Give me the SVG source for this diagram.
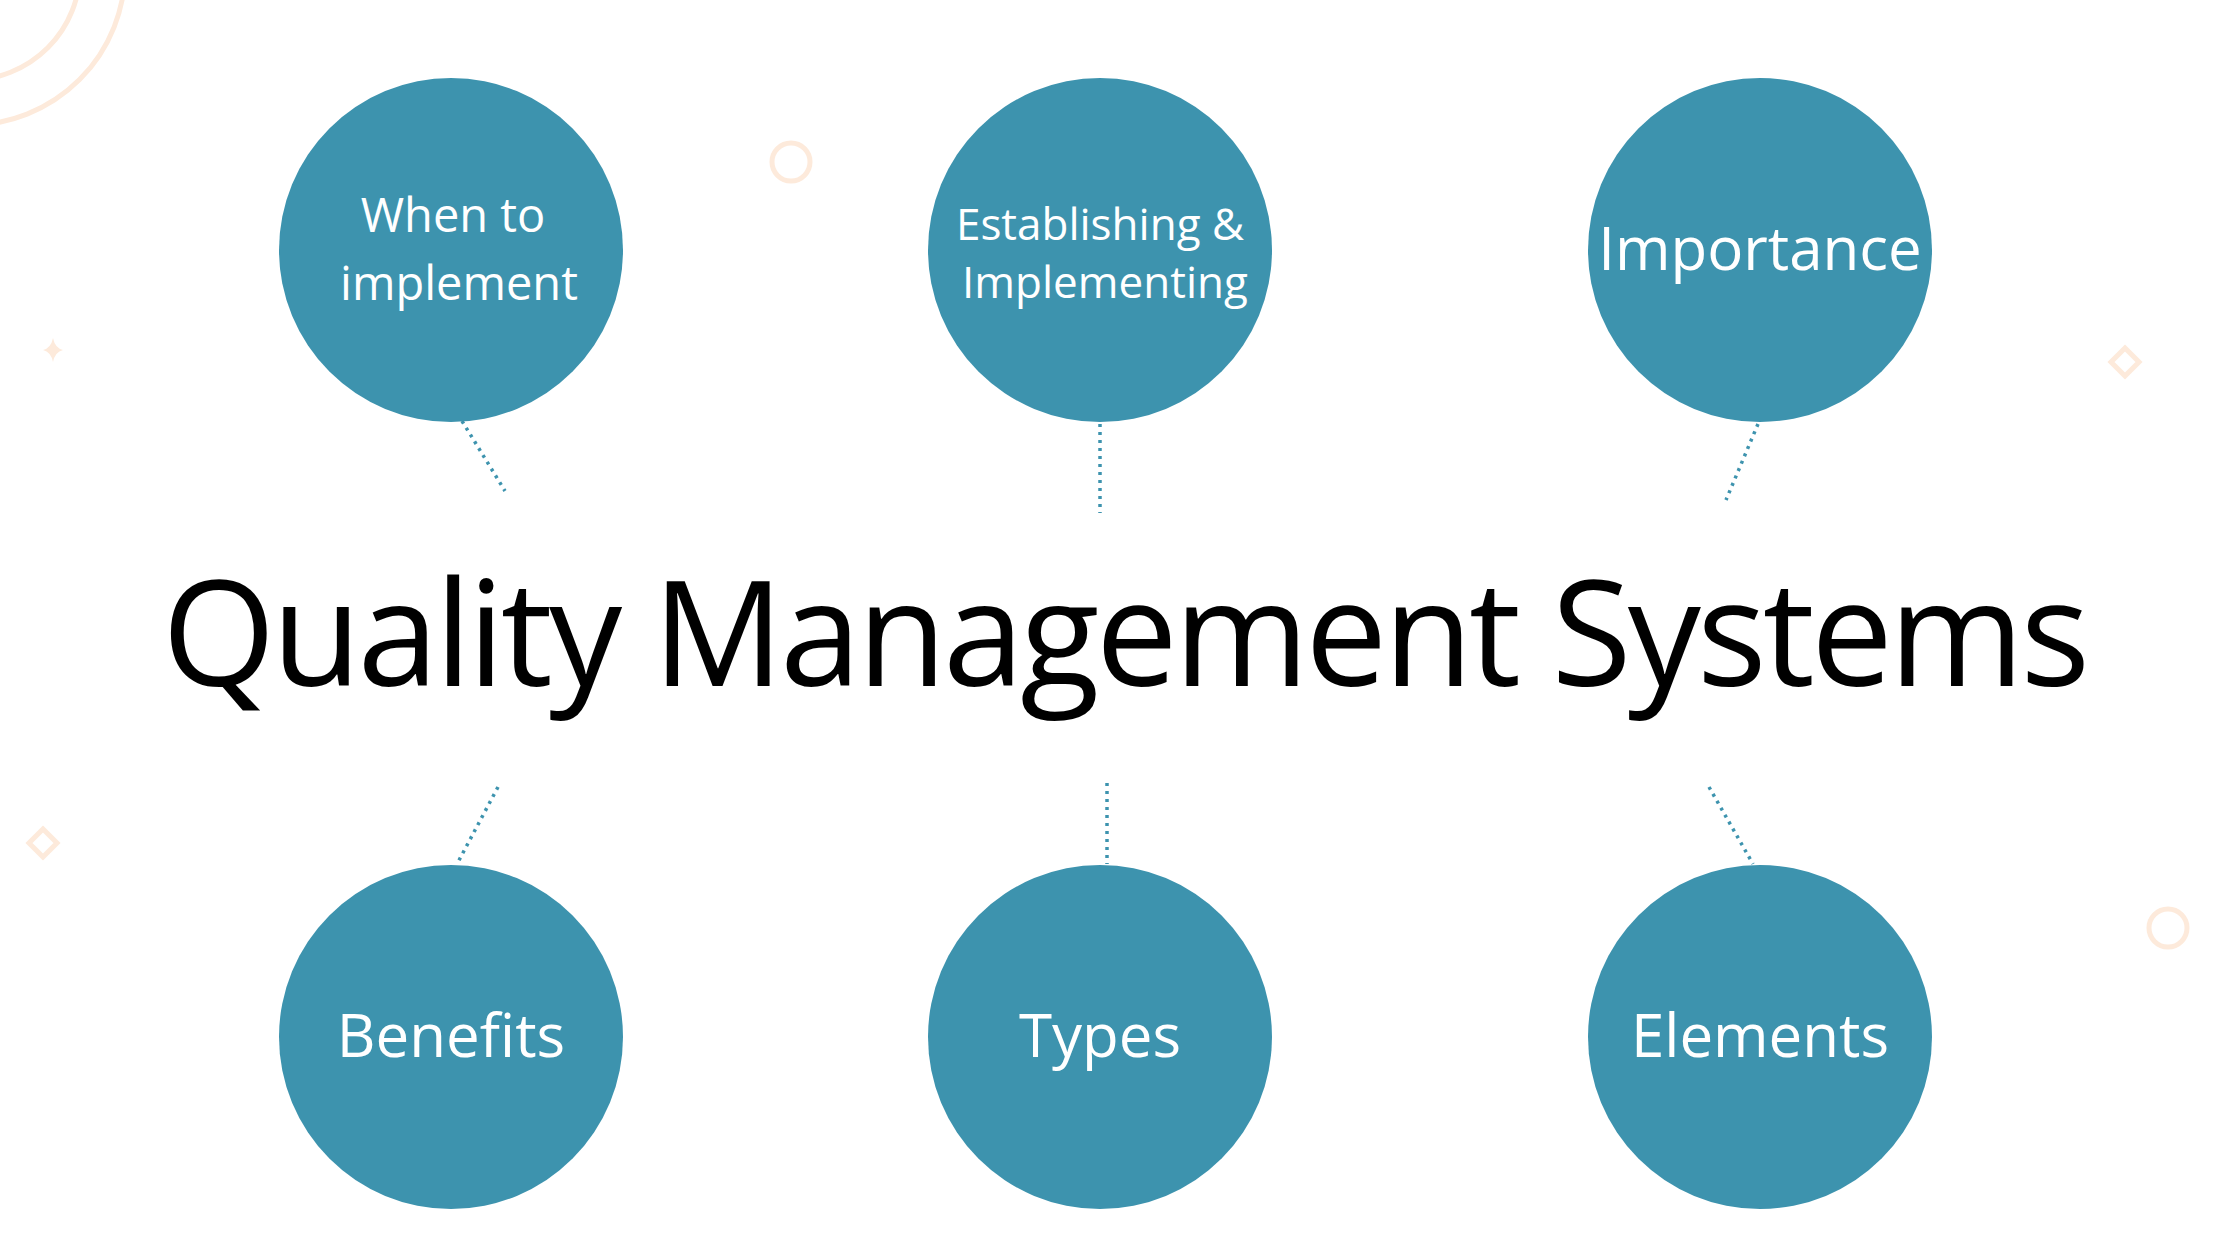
<svg xmlns="http://www.w3.org/2000/svg" width="2240" height="1260" viewBox="0 0 2240 1260">
<style>
.n{fill:#3d93ae}
.t{fill:#fff;font-family:"Open Sans","Noto Sans",sans-serif;text-anchor:middle}
.c{stroke:#3d93ae;stroke-width:3.5;stroke-dasharray:3 5;fill:none}
.d{stroke:#fdeadb;stroke-width:5;fill:none}
</style>
<rect width="2240" height="1260" fill="#fff"/>
<g id="decor">
<circle class="d" cx="-30" cy="-30" r="155"/>
<circle class="d" cx="-30" cy="-30" r="110"/>
<circle class="d" cx="791" cy="162" r="19"/>
<circle class="d" cx="2168" cy="928" r="19"/>
<path class="d" d="M2125 348 L2139 362 L2125 376 L2111 362 Z" stroke-width="3"/>
<path class="d" d="M43 829 L57 843 L43 857 L29 843 Z" stroke-width="3"/>
<path d="M53 338 Q55 348 63 350 Q55 352 53 362 Q51 352 43 350 Q51 348 53 338Z" fill="#fdeadb"/>
</g>
<g id="connectors">
<line class="c" x1="462" y1="421" x2="505" y2="491"/>
<line class="c" x1="1100" y1="424" x2="1100" y2="513"/>
<line class="c" x1="1758" y1="424" x2="1726" y2="500"/>
<line class="c" x1="498" y1="787" x2="457" y2="864"/>
<line class="c" x1="1107" y1="783" x2="1107" y2="864"/>
<line class="c" x1="1709" y1="787" x2="1753" y2="864"/>
</g>
<text x="1126" y="686" font-family="'Open Sans','Noto Sans',sans-serif" font-size="146" text-anchor="middle" fill="#000" textLength="1928">Quality Management Systems</text>
<g id="n1"><circle class="n" cx="451" cy="250" r="172"/><text class="t" x="453" y="232" font-size="47">When to</text><text class="t" x="459" y="300" font-size="47">implement</text></g>
<g id="n2"><circle class="n" cx="1100" cy="250" r="172"/><text class="t" x="1100" y="240" font-size="44">Establishing &amp;</text><text class="t" x="1105" y="298" font-size="44">Implementing</text></g>
<g id="n3"><circle class="n" cx="1760" cy="250" r="172"/><text class="t" x="1760" y="270" font-size="60">Importance</text></g>
<g id="n4"><circle class="n" cx="451" cy="1037" r="172"/><text class="t" x="451" y="1057" font-size="60">Benefits</text></g>
<g id="n5"><circle class="n" cx="1100" cy="1037" r="172"/><text class="t" x="1100" y="1057" font-size="60">Types</text></g>
<g id="n6"><circle class="n" cx="1760" cy="1037" r="172"/><text class="t" x="1760" y="1057" font-size="60">Elements</text></g>
</svg>
